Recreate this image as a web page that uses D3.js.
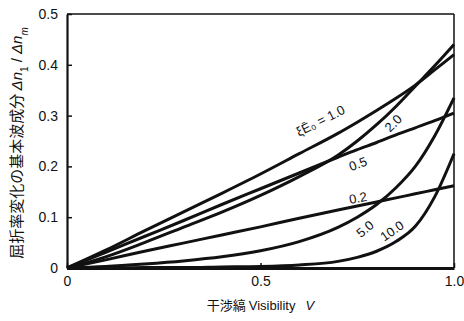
<!DOCTYPE html>
<html>
<head>
<meta charset="utf-8">
<script src="https://cdn.jsdelivr.net/npm/d3@7"></script>
<style>
  html, body { margin: 0; padding: 0; background: #fff; }
  svg { display: block; }
  text { font-family: "Liberation Sans", Arial, "Noto Sans CJK JP", sans-serif; fill: #111; }
</style>
</head>
<body>
<svg id="chart" width="464" height="321"></svg>
<script>
// Fringe visibility V (horizontal axis)
const visibility = [0, 0.1, 0.2, 0.3, 0.4, 0.5, 0.6, 0.7, 0.75, 0.8, 0.85, 0.9, 0.95, 1.0];

// Fundamental component of the refractive-index change, Δn1/Δnm, for each ξE0
const curve0_2  = [0, 0.016, 0.033, 0.049, 0.065, 0.081, 0.098, 0.114, 0.122, 0.130, 0.138, 0.146, 0.154, 0.162];
const curve0_5  = [0, 0.031, 0.062, 0.093, 0.125, 0.156, 0.187, 0.218, 0.233, 0.247, 0.262, 0.276, 0.290, 0.305];
const curve1_0  = [0, 0.035, 0.073, 0.110, 0.147, 0.185, 0.225, 0.265, 0.287, 0.310, 0.334, 0.360, 0.390, 0.420];
const curve2_0  = [0, 0.022, 0.050, 0.080, 0.110, 0.143, 0.180, 0.222, 0.250, 0.282, 0.318, 0.358, 0.398, 0.440];
const curve5_0  = [0, 0.003, 0.008, 0.014, 0.022, 0.034, 0.052, 0.080, 0.100, 0.125, 0.158, 0.200, 0.260, 0.335];
const curve10_0 = [0, 0.000, 0.001, 0.001, 0.002, 0.003, 0.006, 0.013, 0.021, 0.033, 0.052, 0.082, 0.140, 0.225];

const xTicks = [0, 0.5, 1.0];
const xTickLabels = ["0", "0.5", "1.0"];
const yTicks = [0, 0.1, 0.2, 0.3, 0.4, 0.5];
const yTickLabels = ["0", "0.1", "0.2", "0.3", "0.4", "0.5"];

const curveLabels = ["ξĒ₀ = 1.0", "2.0", "0.5", "0.2", "5.0", "10.0"];

const yTitle = "屈折率変化の基本波成分";

// ---- layout ----
const svg = d3.select("#chart");
const plotL = 67, plotR = 454, plotT = 14, plotB = 268;

const x = d3.scaleLinear().domain([0, 1]).range([plotL, plotR]);
const y = d3.scaleLinear().domain([0, 0.5]).range([plotB, plotT]);

// frame: thin top/right, heavier left/bottom axes
svg.append("line").attr("x1", plotL).attr("x2", plotR).attr("y1", plotT).attr("y2", plotT)
  .attr("stroke", "#111").attr("stroke-width", 1.5);
svg.append("line").attr("x1", plotR).attr("x2", plotR).attr("y1", plotT).attr("y2", plotB)
  .attr("stroke", "#111").attr("stroke-width", 1.5);

// y axis with inward ticks
const yAxis = d3.axisLeft(y).tickValues(yTicks)
  .tickFormat((d, i) => yTickLabels[i]).tickSizeInner(-5).tickSizeOuter(0).tickPadding(9);
const gy = svg.append("g").attr("transform", `translate(${plotL},0)`).call(yAxis);
gy.select(".domain").attr("stroke", "#111").attr("stroke-width", 2.2);
gy.selectAll(".tick line").attr("stroke", "#111").attr("stroke-width", 1.5);
gy.selectAll(".tick text").style("font-size", "14px").attr("fill", "#111");

// x axis with inward ticks
const xAxis = d3.axisBottom(x).tickValues(xTicks)
  .tickFormat((d, i) => xTickLabels[i]).tickSizeInner(-5).tickSizeOuter(0).tickPadding(8);
const gx = svg.append("g").attr("transform", `translate(0,${plotB})`).call(xAxis);
gx.select(".domain").attr("stroke", "#111").attr("stroke-width", 3);
gx.selectAll(".tick line").attr("stroke", "#111").attr("stroke-width", 1.5);
gx.selectAll(".tick text").style("font-size", "14px").attr("fill", "#111");

// ---- curves ----
const series = [curve1_0, curve2_0, curve0_5, curve0_2, curve5_0, curve10_0];
const line = d3.line()
  .x((d, i) => x(visibility[i]))
  .y(d => y(d))
  .curve(d3.curveMonotoneX);

svg.append("g").selectAll("path").data(series).join("path")
  .attr("d", d => line(d))
  .attr("fill", "none")
  .attr("stroke", "#111")
  .attr("stroke-width", 3)
  .attr("stroke-linejoin", "round");

// ---- curve labels (anchor in data units, rotation in degrees) ----
const labelAnchors = [
  { v: 0.655, n: 0.290, rot: -27 },
  { v: 0.843, n: 0.285, rot: -45 },
  { v: 0.752, n: 0.205, rot: -20 },
  { v: 0.752, n: 0.138, rot: -10 },
  { v: 0.770, n: 0.077, rot: -40 },
  { v: 0.840, n: 0.073, rot: -35 }
];
svg.append("g").selectAll("text").data(labelAnchors).join("text")
  .attr("transform", d => `translate(${x(d.v)},${y(d.n)}) rotate(${d.rot})`)
  .attr("text-anchor", "middle")
  .attr("dominant-baseline", "central")
  .style("font-size", "13px")
  .text((d, i) => curveLabels[i]);

// ---- axis titles ----
const xt = svg.append("text")
  .attr("x", x(0.5)).attr("y", 310)
  .attr("text-anchor", "middle")
  .style("font-size", "13px");
xt.append("tspan").style("font-family", "'Noto Sans CJK JP', sans-serif").text("干渉縞 ");
xt.append("tspan").text("Visibility");
xt.append("tspan").attr("dx", 10).style("font-style", "italic").text("V");

const yt = svg.append("text")
  .attr("transform", `translate(22,${(plotT + plotB) / 2 + 2}) rotate(-90)`)
  .attr("text-anchor", "middle")
  .style("font-size", "15px");
yt.append("tspan").style("font-family", "'Noto Sans CJK JP', sans-serif").text(yTitle + " ");
yt.append("tspan").style("font-style", "italic").text("Δn");
yt.append("tspan").attr("baseline-shift", "sub").style("font-size", "10px").text("1");
yt.append("tspan").text(" / ");
yt.append("tspan").style("font-style", "italic").text("Δn");
yt.append("tspan").attr("baseline-shift", "sub").style("font-size", "10px").style("font-style", "italic").text("m");
</script>
</body>
</html>
